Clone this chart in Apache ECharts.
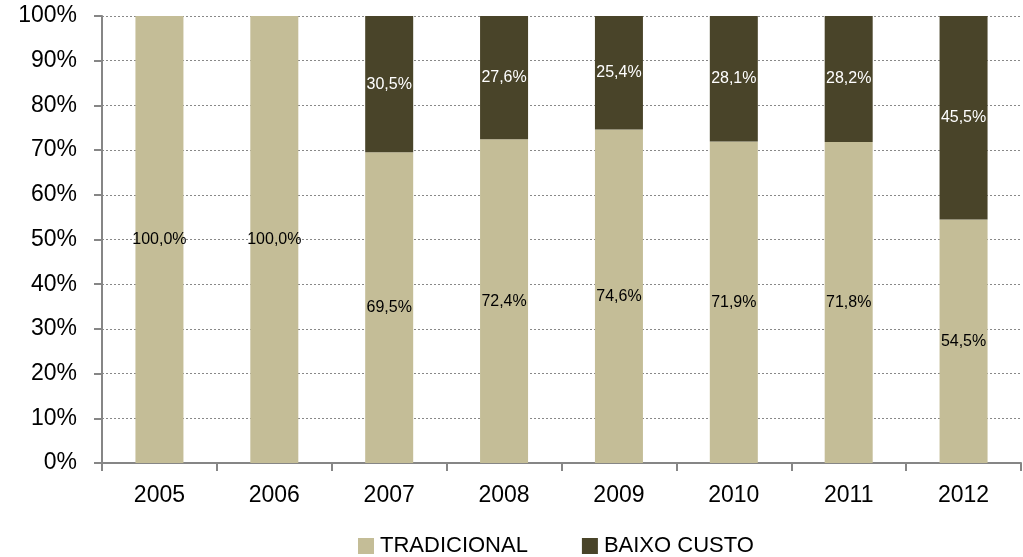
<!DOCTYPE html>
<html><head><meta charset="utf-8">
<script src="https://cdn.jsdelivr.net/npm/echarts@6/dist/echarts.min.js"></script>
<style>html,body{margin:0;padding:0;background:#fff}#c{width:1023px;height:557px}</style>
</head><body><div id="c"></div>
<script>
const categories = ['2005','2006','2007','2008','2009','2010','2011','2012'];
const tradicional = [100.0,100.0,69.5,72.4,74.6,71.9,71.8,54.5];
const baixoCusto = [0,0,30.5,27.6,25.4,28.1,28.2,45.5];
const yTicks = [0,10,20,30,40,50,60,70,80,90,100];
const font = 'Liberation Sans, Arial, sans-serif';
const fmt = p => p.value > 0 ? p.value.toFixed(1).replace('.', ',') + '%' : '';
const chart = echarts.init(document.getElementById('c'));
chart.setOption({
  animation:false,
  grid:{left:102,right:2,top:16,bottom:94,containLabel:false},
  legend:{top:530,left:353,itemWidth:16,itemHeight:16,itemGap:54,icon:'rect',
    textStyle:{fontFamily:font,fontSize:22,color:'#000',padding:[0,0,0,1]},
    data:['TRADICIONAL','BAIXO CUSTO']},
  xAxis:{type:'category',data:categories,
    axisLine:{lineStyle:{color:'#868686',width:2}},
    axisTick:{show:true,length:8,lineStyle:{color:'#868686',width:2}},
    axisLabel:{fontFamily:font,fontSize:23,color:'#000',margin:21}},
  yAxis:{type:'value',min:0,max:100,interval:10,
    axisLine:{show:true,lineStyle:{color:'#868686',width:2}},
    axisTick:{show:true,length:8,lineStyle:{color:'#868686',width:2}},
    splitLine:{lineStyle:{color:'#888',type:[2,2],width:1}},
    axisLabel:{fontFamily:font,fontSize:23,color:'#000',margin:25,
      formatter:v=> yTicks.includes(v) ? v+'%' : ''}},
  series:[
    {name:'TRADICIONAL',type:'bar',stack:'s',data:tradicional,barWidth:48,
     itemStyle:{color:'#C4BD97'},
     label:{show:true,position:'inside',formatter:fmt,fontFamily:font,fontSize:16,color:'#000'}},
    {name:'BAIXO CUSTO',type:'bar',stack:'s',data:baixoCusto,barWidth:48,
     itemStyle:{color:'#494429'},
     label:{show:true,position:'inside',formatter:fmt,fontFamily:font,fontSize:16,color:'#fff'}}
  ]
});
</script></body></html>
